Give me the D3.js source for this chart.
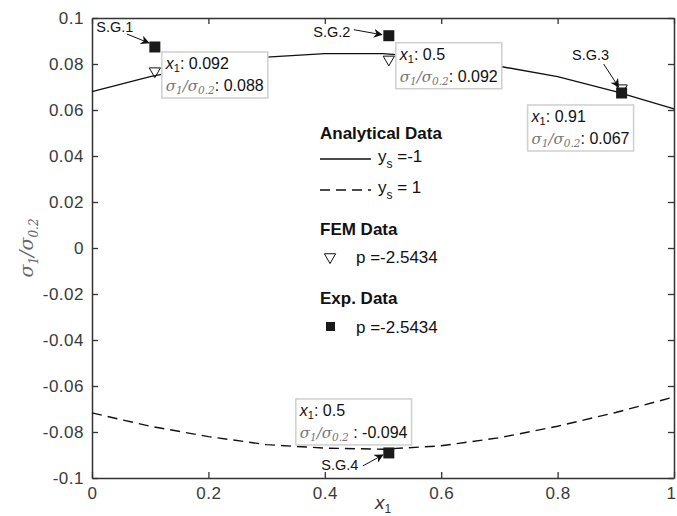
<!DOCTYPE html>
<html>
<head>
<meta charset="utf-8">
<script src="https://cdn.jsdelivr.net/npm/d3@7"></script>
<style>
  body { margin: 0; background: #fff; }
  text { font-family: "Liberation Sans", Arial, Helvetica, sans-serif; }
</style>
</head>
<body>
<div id="chart"></div>
<script>
// data
const xGrid = [0, 0.1, 0.2, 0.3, 0.4, 0.5, 0.6, 0.7, 0.8, 0.9, 1.0];
const analyticNeg = [0.068, 0.0745, 0.0795, 0.083, 0.0845, 0.0845, 0.0825, 0.079, 0.0745, 0.068, 0.0605]; // y_s = -1
const analyticPos = [-0.0717, -0.0775, -0.082, -0.0855, -0.087, -0.0875, -0.086, -0.0825, -0.0775, -0.0715, -0.0648]; // y_s = 1
const femX = [0.108, 0.51, 0.91];
const femY = [0.0769, 0.082, 0.0695];
const expX = [0.108, 0.51, 0.91, 0.51];
const expY = [0.0874, 0.0923, 0.0674, -0.0891];
const gaugeNames = ["S.G.1", "S.G.2", "S.G.3", "S.G.4"];
const tipXText = ["0.092", "0.5", "0.91", "0.5"];
const tipYText = ["0.088", "0.092", "0.067", "-0.094"];
const xTicks = [0, 0.2, 0.4, 0.6, 0.8, 1];
const yTicks = [-0.1, -0.08, -0.06, -0.04, -0.02, 0, 0.02, 0.04, 0.06, 0.08, 0.1];

var width = 677, height = 516;
var margin = {top: 18, right: 3, bottom: 38, left: 92};
var axisColor = "#333";

var svg = d3.select("#chart").append("svg")
    .attr("width", width)
    .attr("height", height);

var x = d3.scaleLinear().domain([0, 1]).range([margin.left, width - margin.right]);
var y = d3.scaleLinear().domain([-0.1, 0.1]).range([height - margin.bottom, margin.top]);

var fmt = function(d) { return String(+d.toFixed(2)); };

// axes, MATLAB style box with inward ticks
function styleAxis(g) {
  g.select(".domain").attr("stroke", axisColor).attr("stroke-width", 1.5);
  g.selectAll(".tick line").attr("stroke", axisColor).attr("stroke-width", 1.3);
  g.selectAll(".tick text").attr("fill", "#3a3a3a").style("font-size", "17px")
    .style("letter-spacing", "0.5px")
    .style("font-family", "'Liberation Sans', Arial, sans-serif");
}
var xAxisG = svg.append("g")
    .attr("transform", "translate(0," + y.range()[0] + ")")
    .call(d3.axisBottom(x).tickValues(xTicks).tickFormat(fmt).tickSizeInner(-6).tickSizeOuter(0).tickPadding(9))
    .call(styleAxis);
svg.append("g")
    .attr("transform", "translate(0," + y.range()[1] + ")")
    .call(d3.axisTop(x).tickValues(xTicks).tickFormat("").tickSizeInner(-6).tickSizeOuter(0))
    .call(styleAxis);
svg.append("g")
    .attr("transform", "translate(" + x.range()[0] + ",0)")
    .call(d3.axisLeft(y).tickValues(yTicks).tickFormat(fmt).tickSizeInner(-6).tickSizeOuter(0).tickPadding(8))
    .call(styleAxis);
svg.append("g")
    .attr("transform", "translate(" + x.range()[1] + ",0)")
    .call(d3.axisRight(y).tickValues(yTicks).tickFormat("").tickSizeInner(-6).tickSizeOuter(0))
    .call(styleAxis);

// last x tick label sits against the right edge, as in the figure
xAxisG.selectAll(".tick text").filter(function(d) { return d === 1; })
    .attr("text-anchor", "end").attr("dx", "2px");

// axis labels
svg.append("text")
    .attr("x", (x.range()[0] + x.range()[1]) / 2)
    .attr("y", 509)
    .attr("text-anchor", "middle")
    .attr("fill", "#333")
    .style("font-size", "19px")
    .html('<tspan font-style="italic">x</tspan><tspan font-size="12px" dy="4">1</tspan>');

svg.append("text")
    .attr("transform", "translate(33," + y(0) + ") rotate(-90)")
    .attr("text-anchor", "middle")
    .attr("fill", "#666")
    .style("font-size", "19px")
    .style("font-style", "italic")
    .style("font-family", "'DejaVu Serif', 'Liberation Serif', serif")
    .html('σ<tspan font-size="12px" dy="5">1</tspan><tspan dy="-5">/σ</tspan><tspan font-size="12px" dy="5">0.2</tspan>');

// analytical curves
var line = d3.line()
    .x(function(d, i) { return x(xGrid[i]); })
    .y(function(d) { return y(d); });

svg.append("path")
    .datum(analyticNeg)
    .attr("d", line)
    .attr("fill", "none")
    .attr("stroke", "#111")
    .attr("stroke-width", 1.4);

svg.append("path")
    .datum(analyticPos)
    .attr("d", line)
    .attr("fill", "none")
    .attr("stroke", "#111")
    .attr("stroke-width", 1.4)
    .attr("stroke-dasharray", "10,6");

// FEM triangles
var tri = d3.symbol().type(d3.symbolTriangle).size(55);
svg.selectAll(".fem").data(femX)
  .enter().append("path")
    .attr("class", "fem")
    .attr("d", tri)
    .attr("transform", function(d, i) { return "translate(" + x(d) + "," + y(femY[i]) + ") rotate(180)"; })
    .attr("fill", "none")
    .attr("stroke", "#111")
    .attr("stroke-width", 1);

// experimental squares
svg.selectAll(".exp").data(expX)
  .enter().append("rect")
    .attr("class", "exp")
    .attr("x", function(d) { return x(d) - 5.5; })
    .attr("y", function(d, i) { return y(expY[i]) - 5.5; })
    .attr("width", 11)
    .attr("height", 11)
    .attr("fill", "#1a1a1a");

// gauge labels + arrows (offsets from marker in px)
var labelOff = [[-40, -20], [-57, -4], [-31, -38], [-49, 12]];
var arrowTail = [[-28, -13], [-35, -6], [-18, -29], [-26, 13]];
var arrowHead = [[-6, -4], [-7, -1], [-3, -6], [-6, 2]];

svg.append("defs").append("marker")
    .attr("id", "head")
    .attr("viewBox", "0 0 10 10")
    .attr("refX", 9).attr("refY", 5)
    .attr("markerWidth", 9).attr("markerHeight", 9)
    .attr("markerUnits", "userSpaceOnUse")
    .attr("orient", "auto")
  .append("path")
    .attr("d", "M0,0 L10,5 L0,10 L3,5 Z")
    .attr("fill", "#111");

gaugeNames.forEach(function(name, i) {
  var px = x(expX[i]), py = y(expY[i]);
  svg.append("text")
    .attr("x", px + labelOff[i][0])
    .attr("y", py + labelOff[i][1])
    .attr("dy", "0.35em")
    .attr("text-anchor", "middle")
    .attr("fill", "#111")
    .style("font-size", "14.5px")
    .text(name);
  svg.append("line")
    .attr("x1", px + arrowTail[i][0]).attr("y1", py + arrowTail[i][1])
    .attr("x2", px + arrowHead[i][0]).attr("y2", py + arrowHead[i][1])
    .attr("stroke", "#111")
    .attr("stroke-width", 1)
    .attr("marker-end", "url(#head)");
});

// data tips
var tipOff = [[7, 5], [7, 7], [-94, 12], [-93, -54]];
gaugeNames.forEach(function(name, i) {
  var bx = x(expX[i]) + tipOff[i][0], by = y(expY[i]) + tipOff[i][1];
  var g = svg.append("g").attr("transform", "translate(" + bx + "," + by + ")");
  var box = g.append("rect")
    .attr("fill", "#fff")
    .attr("stroke", "#cfcfcf")
    .attr("stroke-width", 1.5);
  var t1 = g.append("text")
    .attr("x", 4).attr("y", 17)
    .attr("fill", "#111")
    .style("font-size", "16px")
    .html('<tspan font-style="italic">x</tspan><tspan font-size="11px" dy="3">1</tspan><tspan dy="-3">: ' + tipXText[i] + '</tspan>');
  var sep = i === 3 ? " : " : ": ";
  var t2 = g.append("text")
    .attr("x", 4).attr("y", 39)
    .attr("fill", "#111")
    .style("font-size", "16px")
    .html('<tspan fill="#777" font-style="italic" font-family="\'DejaVu Serif\', serif" font-size="15px">σ<tspan font-size="10.5px" dy="3">1</tspan><tspan dy="-3">/σ</tspan><tspan font-size="10.5px" dy="3">0.2</tspan></tspan><tspan dy="-3">' + sep + tipYText[i] + '</tspan>');
  var w = Math.max(t1.node().getBBox().width, t2.node().getBBox().width) + 8;
  box.attr("width", w).attr("height", 46);
});

// legend
var lg = svg.append("g").attr("transform", "translate(320,0)");
var legendTitles = ["Analytical Data", "FEM Data", "Exp. Data"];
var legendTitleY = [133, 229, 298];
legendTitles.forEach(function(t, i) {
  lg.append("text")
    .attr("x", 0).attr("y", legendTitleY[i])
    .attr("dy", "0.35em")
    .attr("fill", "#111")
    .style("font-size", "17px")
    .style("font-weight", "bold")
    .text(t);
});
lg.append("line").attr("x1", 0).attr("x2", 51).attr("y1", 159).attr("y2", 159)
  .attr("stroke", "#111").attr("stroke-width", 1.4);
lg.append("line").attr("x1", 0).attr("x2", 51).attr("y1", 190).attr("y2", 190)
  .attr("stroke", "#111").attr("stroke-width", 1.4).attr("stroke-dasharray", "10,6");
lg.append("text").attr("x", 58).attr("y", 157).attr("dy", "0.3em").attr("fill", "#111")
  .style("font-size", "17px")
  .html('y<tspan font-size="12px" dy="6">s</tspan><tspan dy="-6"> =-1</tspan>');
lg.append("text").attr("x", 58).attr("y", 188).attr("dy", "0.3em").attr("fill", "#111")
  .style("font-size", "17px")
  .html('y<tspan font-size="12px" dy="6">s</tspan><tspan dy="-6"> = 1</tspan>');
lg.append("path")
  .attr("d", tri)
  .attr("transform", "translate(10,257) rotate(180)")
  .attr("fill", "none").attr("stroke", "#111").attr("stroke-width", 1);
lg.append("text").attr("x", 36).attr("y", 257).attr("dy", "0.35em").attr("fill", "#111")
  .style("font-size", "17px").text("p =-2.5434");
lg.append("rect").attr("x", 6).attr("y", 322).attr("width", 9).attr("height", 9).attr("fill", "#1a1a1a");
lg.append("text").attr("x", 36).attr("y", 327).attr("dy", "0.35em").attr("fill", "#111")
  .style("font-size", "17px").text("p =-2.5434");
</script>
</body>
</html>
